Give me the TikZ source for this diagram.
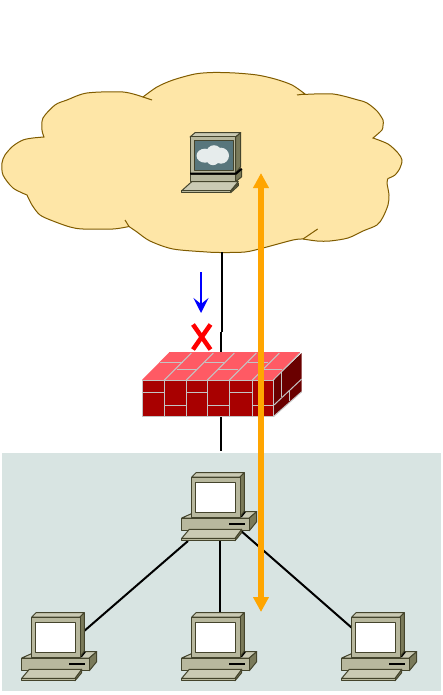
\documentclass[tikz,border=0pt]{standalone}
\usepackage{tikz}
\usetikzlibrary{arrows.meta, positioning, calc}
\definecolor{lanfill}{RGB}{216,228,226}
\definecolor{cloudfill}{RGB}{254,230,167}
\definecolor{cloudedge}{RGB}{128,92,0}
\definecolor{pcedge}{RGB}{68,68,44}
\definecolor{pcfront}{RGB}{184,184,158}
\definecolor{pctop}{RGB}{202,202,180}
\definecolor{pcside}{RGB}{122,122,90}
\definecolor{termscreen}{RGB}{88,118,124}
\definecolor{termcloud}{RGB}{230,236,236}
\definecolor{walltop}{RGB}{255,90,100}
\definecolor{wallfront}{RGB}{168,0,0}
\definecolor{wallside}{RGB}{106,0,0}
\definecolor{mortar}{RGB}{196,196,196}
\definecolor{flowarrow}{RGB}{255,165,0}
\tikzset{
  pcpart/.style={draw=pcedge, line width=1pt, line join=round},
  link/.style={draw=black, line width=2pt},
  brick/.style={draw=mortar, line width=1pt},
  pc/.pic={
    % Base and keyboard
    \filldraw[pcpart, fill=pctop] (0.7,45.3) -- (15,39) -- (75.7,39) -- (68.3,45.3) -- cycle;
    \filldraw[pcpart, fill=pcside] (68.3,45.3) -- (75.7,39) -- (75.7,49) -- (68.3,58) -- cycle;
    \filldraw[pcpart, fill=pcfront] (0.7,45.3) rectangle (68.3,58);
    \draw[black, line width=2pt] (48.3,51) -- (64,51);
    \filldraw[pcpart, fill=pcside] (54,65.6) -- (60.7,56.6) -- (60.7,60) -- (54,68) -- cycle;
    \filldraw[pcpart, fill=pctop] (8.3,56.6) -- (60.7,56.6) -- (54,65.6) -- (0.7,65.6) -- cycle;
    \filldraw[pcpart, fill=pcfront] (0.7,65.6) rectangle (54,68);
    % Monitor
    \draw[black, line width=2pt] (60,44) -- (64,39);
    \filldraw[pcpart, fill=pctop] (10.7,4.3) -- (15,0) -- (63.3,0) -- (59,4.3) -- cycle;
    \filldraw[pcpart, fill=pcside] (59,4.3) -- (63.3,0) -- (63.3,38.3) -- (59,44.3) -- cycle;
    \filldraw[pcpart, fill=pcfront] (10.7,4.3) rectangle (59,44.3);
    \filldraw[pcpart, fill=white] (14.7,9.3) rectangle (54.7,39.3);
  },
  terminal/.pic={
    % Keyboard
    \filldraw[pcpart, fill=pcside] (49.7,58) -- (57.3,50.6) -- (57.3,53) -- (49.7,60) -- cycle;
    \filldraw[pcpart, fill=pctop] (10.7,49) -- (57.3,49) -- (49.7,58) -- (0.7,58) -- cycle;
    \filldraw[pcpart, fill=pcfront] (0.7,58) rectangle (49.7,60);
    % Stand
    \filldraw[pcpart, fill=pcside] (54.7,42) -- (60.7,36.6) -- (60.7,44) -- (54.7,49) -- cycle;
    \filldraw[pcpart, fill=pcfront] (9,42) rectangle (54.7,49);
    % Monitor
    \filldraw[pcpart, fill=pctop] (9,4.3) -- (14,0) -- (59.7,0) -- (54.7,4.3) -- cycle;
    \filldraw[pcpart, fill=pcside] (54.7,4.3) -- (59.7,0) -- (59.7,34) -- (54.7,40.3) -- cycle;
    \filldraw[pcpart, fill=pcfront] (9,4.3) rectangle (54.7,40.3);
    \draw[black, line width=2pt] (9,41) -- (54.7,41) -- (60.7,36);
    \filldraw[pcpart, fill=termscreen] (13,8.3) rectangle (52,37.3);
    % Cloud on the screen
    \fill[termcloud] (24,23) ellipse (8.5 and 7) (33,21) ellipse (8 and 8.5) (40,23) ellipse (8 and 8) (32,26) circle (6.5);
  },
}
\begin{document}
\begin{tikzpicture}[x=1pt, y=-1pt]
  \useasboundingbox (0,0) rectangle (443,695);
  % LAN area
  \fill[lanfill] (2,453) rectangle (441,691);
  % Internet cloud
  \filldraw[fill=cloudfill, draw=cloudedge, line width=1pt]
    plot[smooth] coordinates {(143,97) (157,87) (173,80) (195,74) (213,72.5) (235,73) (257,75) (275,79) (292,85) (305,94)}
    -- plot[smooth] coordinates {(303,94.5) (333,94) (358,100) (367,103) (377,111) (383,120) (383,125) (382,130) (373,138)}
    -- plot[smooth] coordinates {(373,138) (388,144) (398,153) (402,160) (400,168) (395,175) (388,178.5)}
    -- plot[smooth] coordinates {(388,178.5) (387,183) (389,195) (388,205) (383,217) (377,225) (363,231) (348,238) (330,241) (317,241) (303,239)}
    -- plot[smooth] coordinates {(303,239) (293,240) (263,248) (245,252) (220,252.5) (207,252) (173,249) (150,241) (137,232) (129,226.5)}
    -- plot[smooth] coordinates {(129,226.5) (113,229) (83,229) (70,227) (53,221) (40,215) (32,205) (27,195)}
    -- plot[smooth] coordinates {(27,195) (13,188) (3,175) (2,163) (5,155) (13,146) (23,140) (33,138) (44,137)}
    -- plot[smooth] coordinates {(44,137) (42,130) (43,118) (55,105) (67,100) (87,93) (123,92) (143,97)}
    -- cycle;
  % Overlap ticks between the lobes
  \draw[cloudedge, line width=1pt] (143,97) -- (152,100);
  \draw[cloudedge, line width=1pt] (305,94) -- (297,95);
  \draw[cloudedge, line width=1pt] (303,239) -- (317.7,229);
  \draw[cloudedge, line width=1pt] (129,226.5) -- (125,220);
  % Anchor points of the links
  \coordinate (cloudbot) at (222,252);
  \coordinate (walljog) at (222,332);
  \coordinate (walljogb) at (221,332);
  \coordinate (walltopc) at (221,353);
  \coordinate (wallbot) at (221,417);
  \coordinate (lanedge) at (221,451);
  \coordinate (hubbotl) at (188,541);
  \coordinate (hubbot) at (220,540);
  \coordinate (hubbotr) at (240,530);
  \coordinate (pcleftc) at (83,632);
  \coordinate (pcmidc) at (220,613);
  \coordinate (pcrightc) at (352,628);
  % Links
  \draw[link] (cloudbot) -- (walljog);
  \draw[link] (walljogb) -- (walltopc);
  \draw[link] (wallbot) -- (lanedge);
  \draw[link] (hubbotl) -- (pcleftc);
  \draw[link] (hubbot) -- (pcmidc);
  \draw[link] (hubbotr) -- (pcrightc);
  % Computers
  \pic at (181,132.7) {terminal};
  \pic at (181,472.7) {pc};
  \pic at (21,612.7) {pc};
  \pic at (181,612.7) {pc};
  \pic at (341,612.7) {pc};
  % Firewall
  \fill[walltop] (142,380) -- (169.3,352.3) -- (300,352.3) -- (273.3,380) -- cycle;
  \fill[wallfront] (142,380) rectangle (273.3,416.7);
  \fill[wallside] (273.3,380) -- (301.7,353) -- (301.7,391.7) -- (273.3,416.7) -- cycle;
  \draw[walltop, line width=1pt] (169.3,352.3) -- (300,352.3);
  \foreach \xa in {164.3,186.3,207.3,229.3,252.3} {
    \draw[brick] (\xa,380) -- (\xa,416.7);
    \draw[brick] (\xa,380) -- ++(27,-27);
  }
  \foreach \xa/\xb in {142/164.3,186.3/207.3,229.3/252.3}
    \draw[brick] (\xa,392.3) -- (\xb,392.3);
  \foreach \xa/\xb in {164.3/186.3,207.3/229.3,252.3/273.3}
    \draw[brick] (\xa,405.3) -- (\xb,405.3);
  \foreach \xa/\xb in {160/183,205/224,248/268}
    \draw[brick] (\xa,362) -- (\xb,362);
  \foreach \xa/\xb in {177/197,218/238,263/282}
    \draw[brick] (\xa,369.3) -- (\xb,369.3);
  \draw[brick] (142,380) rectangle (273.3,416.7);
  \draw[brick] (273.3,380) -- (300,353);
  \draw[brick] (273.3,416.7) -- (301.7,391.7);
  \draw[brick] (274,405) -- (301.7,379);
  \draw[brick] (281.7,372) -- (281.7,397);
  \draw[brick] (289,390) -- (289,401);
  % Blocked traffic
  \coordinate (blockstart) at (201,272);
  \coordinate (blockend) at (201,313);
  \draw[blue, line width=2pt, -{Stealth[length=15pt, width=15pt, inset=6pt]}] (blockstart) -- (blockend);
  \draw[red, line width=4.5pt] (193,324.5) -- (210.5,349.5);
  \draw[red, line width=4.5pt] (210.5,324.5) -- (193,349.5);
  % Allowed traffic
  \coordinate (flowtop) at (261,173);
  \coordinate (flowbot) at (261,612);
  \draw[flowarrow, line width=6pt, {Triangle[length=15pt, width=15pt]}-{Triangle[length=15pt, width=15pt]}] (flowtop) -- (flowbot);
\end{tikzpicture}
\end{document}
